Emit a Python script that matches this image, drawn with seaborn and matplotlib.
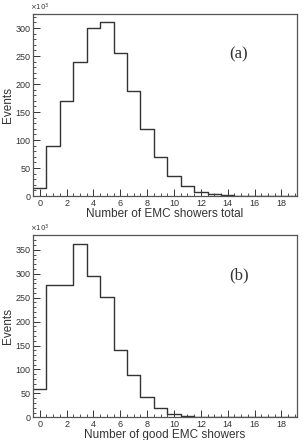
import numpy as np
import pandas as pd
import matplotlib
matplotlib.use("Agg")
import matplotlib.pyplot as plt
from matplotlib.ticker import MultipleLocator
import seaborn as sns

# bin centres (number of showers) and counts in units of 10^3
n_showers = np.arange(0, 20)
total_counts = [15, 90, 170, 240, 300, 311, 256, 188, 120, 69,
                36, 18, 8, 3, 1.5, 0.6, 0.3, 0.1, 0.05, 0.02]
good_counts = [60, 276, 277, 363, 296, 252, 140, 88, 42, 20,
               7, 3, 1, 0.5, 0.2, 0.1, 0.05, 0.02, 0.01, 0.0]

xlabels = ["Number of EMC showers total", "Number of good EMC showers"]
tags = ["(a)", "(b)"]
ylims = [325, 381]

sns.set_style("ticks")
plt.rcParams["font.family"] = ["Liberation Sans", "DejaVu Sans"]

fig = plt.figure(figsize=(3.03, 4.4), dpi=100)
ax_a = fig.add_axes([0.109, 0.5545, 0.871, 0.4135])
ax_b = fig.add_axes([0.109, 0.0516, 0.871, 0.4144])

for ax, counts, xl, tag, ym in zip([ax_a, ax_b], [total_counts, good_counts],
                                   xlabels, tags, ylims):
    df = pd.DataFrame({"n": n_showers.astype(float), "count": counts})
    sns.histplot(data=df, x="n", weights="count", discrete=True, element="step",
                 fill=False, color="#333333", linewidth=1.0, ax=ax)
    ax.set_xlim(-0.5, 19.15)
    ax.set_ylim(0, ym)
    ax.xaxis.set_major_locator(MultipleLocator(2))
    ax.xaxis.set_minor_locator(MultipleLocator(0.5))
    ax.yaxis.set_major_locator(MultipleLocator(50))
    ax.yaxis.set_minor_locator(MultipleLocator(10))
    ax.tick_params(which="both", direction="in", labelsize=6.5, pad=2,
                   colors="#333333")
    ax.tick_params(which="major", length=5, width=0.7)
    ax.tick_params(which="minor", length=2.5, width=0.6)
    for s in ax.spines.values():
        s.set_color("#555555")
        s.set_linewidth(0.9)
    ax.set_xlabel(xl, fontsize=8.5, labelpad=0, color="#333333")
    ax.set_ylabel("Events", fontsize=8.5, labelpad=1, color="#333333")
    ax.text(-0.01, 1.005, r"$\times10^{3}$", transform=ax.transAxes,
            fontsize=5, color="#333333", ha="left", va="bottom")
    ax.text(0.78, 0.78, tag, transform=ax.transAxes, fontsize=12,
            family="Liberation Serif", color="#333333", ha="center", va="center")

fig.savefig("out.png", dpi=100)
